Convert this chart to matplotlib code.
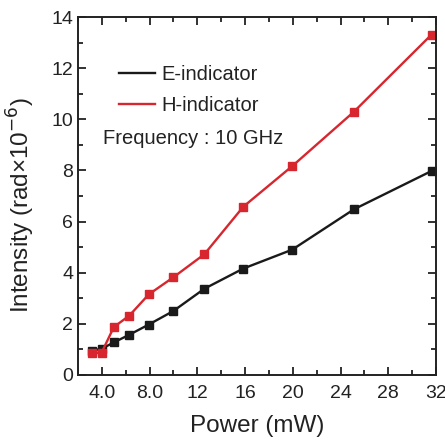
import matplotlib
matplotlib.use("Agg")
import matplotlib.pyplot as plt
from matplotlib.ticker import MultipleLocator, FixedLocator
from matplotlib.lines import Line2D

plt.rcParams['font.family'] = ['Liberation Sans', 'DejaVu Sans']

power = [3.16, 3.98, 5.01, 6.31, 7.94, 10.0, 12.59, 15.85, 19.95, 25.12, 31.62]
e_ind = [0.95, 1.02, 1.27, 1.57, 1.97, 2.50, 3.37, 4.16, 4.90, 6.48, 7.98]
h_ind = [0.86, 0.86, 1.87, 2.32, 3.15, 3.82, 4.72, 6.58, 8.17, 10.30, 13.32]
xticks = [4, 8, 12, 16, 20, 24, 28, 32]
xticklabels = ["4.0", "8.0", "12", "16", "20", "24", "28", "32"]

black = '#1a1a1a'
red = '#d7262e'

fig = plt.figure(figsize=(4.45, 4.41), dpi=100)
ax = fig.add_axes([0.175, 0.150, 0.805, 0.811])

ax.plot(power, e_ind, color=black, lw=1.7, marker='s', ms=5.5)
ax.plot(power, h_ind, color=red, lw=1.7, marker='s', ms=5.5)

ax.set_xlim(2, 32)
ax.set_ylim(0, 14)
ax.xaxis.set_major_locator(FixedLocator(xticks))
ax.set_xticklabels(xticklabels)
ax.xaxis.set_minor_locator(MultipleLocator(2))
ax.yaxis.set_major_locator(MultipleLocator(2))
ax.yaxis.set_minor_locator(MultipleLocator(1))
ax.tick_params(which='both', direction='in', top=True, right=True, labelsize=14, width=1.3, colors='#222222')
ax.tick_params(axis='x', which='major', pad=7)
ax.tick_params(which='major', length=6)
ax.tick_params(which='minor', length=3.5)
for s in ax.spines.values():
    s.set_linewidth(1.4)
    s.set_color('#222222')

ax.set_xlabel('Power (mW)', fontsize=17.5, labelpad=10, color='#222222')
ax.set_ylabel('Intensity (rad×10$^{-6}$)', fontsize=17.5, color='#222222')
ax.yaxis.set_label_coords(-0.113, 0.475)

handles = [Line2D([], [], color=black, lw=1.7), Line2D([], [], color=red, lw=1.7)]
ax.legend(handles, ['E-indicator', 'H-indicator'], loc='upper left', bbox_to_anchor=(0.065, 0.916),
          frameon=False, fontsize=14.5, handlelength=1.75, handletextpad=0.35, labelspacing=0.58,
          labelcolor='#222222')
ax.text(0.07, 0.662, 'Frequency : 10 GHz', transform=ax.transAxes, fontsize=14.5, va='center',
        color='#222222')

fig.savefig('out.png', dpi=100)
